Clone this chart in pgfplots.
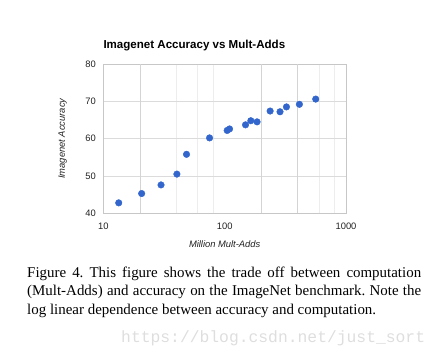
\documentclass[border=0pt]{standalone}
\usepackage{pgfplots}
\pgfplotsset{compat=1.18}
\usepackage{fontspec}
\setmainfont{Liberation Serif}
\setsansfont{Liberation Sans}
\setmonofont{Liberation Mono}
\definecolor{gblue}{RGB}{51,102,204}
\definecolor{txtgray}{RGB}{34,34,34}
\begin{document}
\frenchspacing
\begin{tikzpicture}
\useasboundingbox (0,0) rectangle (442bp,358bp);
\begin{axis}[
  at={(103.3bp,144.7bp)}, anchor=south west,
  scale only axis, width=242.7bp, height=149.3bp,
  xmode=log, log basis x=10,
  xmin=10, xmax=1000, ymin=40, ymax=80,
  xtick={10,100,1000}, xticklabels={10,100,1000},
  ytick={40,50,60,70,80},
  minor xtick={40,60,80,600,800},
  extra x ticks={20,200,400}, extra x tick labels={},
  extra x tick style={grid=major, major grid style={draw=black!17, line width=0.6bp}},
  xminorgrids, ymajorgrids,
  minor grid style={draw=black!7, line width=0.6bp},
  major grid style={draw=black!14, line width=0.6bp},
  axis line style={draw=black!22, line width=0.6bp},
  tick style={draw=none},
  major tick length=0pt, minor tick length=0pt,
  /pgf/number format/assume math mode=true,
  ticklabel style={font=\sffamily\fontsize{9.4}{11}\selectfont, text=txtgray},
  xticklabel style={yshift=-6.5bp},
  yticklabel style={xshift=-4bp},
  log ticks with fixed point,
  every axis title shift=0pt,
  title={Imagenet Accuracy vs Mult-Adds},
  title style={at={(axis description cs:0,1.122)}, anchor=west, inner xsep=0pt, yshift=0pt,
    font=\sffamily\bfseries\fontsize{11.6}{13}\selectfont},
  xlabel={Million Mult-Adds},
  xlabel style={at={(axis description cs:0.5,-0.206)}, anchor=center,
    font=\sffamily\itshape\fontsize{9.4}{11}\selectfont, text=txtgray},
  ylabel={Imagenet Accuracy},
  ylabel style={at={(axis description cs:-0.168,0.5)}, anchor=center,
    font=\sffamily\itshape\fontsize{9.4}{11}\selectfont, text=txtgray},
  clip=false,
]
\addplot[only marks, mark=*, mark size=3.3bp, gblue, mark options={draw=gblue, fill=gblue}] coordinates {
(13.4,42.8) (20.7,45.3) (29.9,47.6) (40.4,50.5) (48.5,55.8) (75.1,60.2)
(104.9,62.2) (109.7,62.6) (148.6,63.7) (164.3,64.8) (185,64.5)
(237,67.4) (286,67.2) (323,68.5) (413,69.2) (563,70.6)
};
\end{axis}
\node[anchor=north west, inner sep=0pt, text width=394bp, align=justify,
  font=\fontsize{15}{18.3}\selectfont] at (27bp,91bp)
  {Figure 4. This figure shows the trade off between computation (Mult-Adds) and accuracy on the ImageNet benchmark. Note the log linear dependence between accuracy and computation.};
\node[anchor=west, inner sep=0pt, text=black!13, font=\ttfamily\fontsize{16.4}{18}\selectfont] at (121bp,20bp) {https://blog.csdn.net/just\_sort};
\end{tikzpicture}
\end{document}
